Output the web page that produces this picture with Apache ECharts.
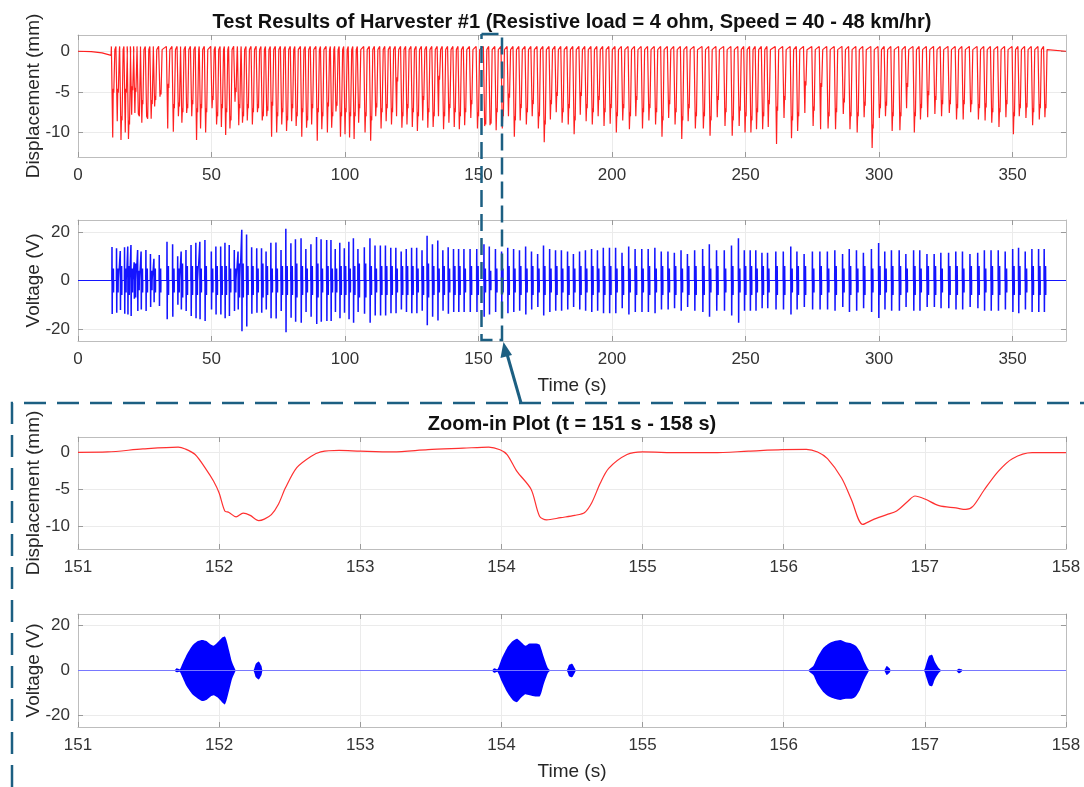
<!DOCTYPE html>
<html>
<head>
<meta charset="utf-8">
<title>Harvester #1 test results</title>
<script src="https://cdn.jsdelivr.net/npm/echarts@6/dist/echarts.min.js"></script>
<style>
  html, body { margin: 0; padding: 0; background: #fff; }
  #chart { width: 1084px; height: 787px; }
</style>
</head>
<body>
<div id="chart"></div>
<script>
// dips of the displacement record (s / mm)
var dipTime = [
  13.0, 14.7, 16.1, 17.7, 18.9, 20.1, 21.3, 22.6, 23.9, 25.7, 27.4, 28.7, 30.7, 33.6, 35.7, 37.6, 38.9, 40.7, 42.6, 44.4,
  45.9, 47.8, 50.2, 51.9, 53.7, 55.3, 56.9, 58.8, 60.2, 61.6, 63.4, 65.3, 67.2, 69.0, 70.7, 72.5, 74.4, 76.3, 78.1, 80.0,
  81.7, 83.8, 85.6, 87.5, 89.6, 91.3, 93.4, 95.0, 96.6, 98.3, 100.0, 101.7, 103.4, 105.1,
  107.5, 109.6, 111.5, 113.5, 115.4, 117.4, 119.3, 121.3, 123.2, 125.2, 127.1, 129.1, 131.0, 133.0, 135.0, 136.9, 138.9, 140.9, 142.8, 144.8,
  147.1, 149.6, 152.3, 154.3, 156.6, 158.9, 161.2, 163.4, 165.6, 167.9, 170.1, 172.4, 174.6, 176.9, 179.1, 181.3, 183.6, 185.8, 188.1, 190.3,
  192.6, 194.8, 197.0, 199.3, 201.6, 204.0, 206.5, 208.9, 211.4, 213.8, 216.3, 218.7, 221.2, 223.6, 226.1, 228.5, 231.2,
  234.2, 236.7, 239.4, 242.3, 245.0, 247.6, 249.8, 252.0, 254.1, 256.4, 258.5, 261.6, 264.4, 267.2, 269.5, 272.2, 275.3, 278.1, 280.9, 283.7,
  286.6, 289.1, 291.8, 294.4, 297.4, 300.1, 302.4, 304.9, 307.8, 310.3, 313.2, 315.5, 318.2, 320.9, 323.4, 326.3, 329.0, 331.5, 334.3, 337.2,
  339.7, 342.2, 344.9, 347.5, 350.3, 352.5, 355.0, 357.5, 360.0, 362.1
];
var dipDepth = [
  -10.6, -8.6, -10.9, -10.0, -10.8, -7.8, -7.6, -7.7, -8.8, -8.0, -8.3, -6.8, -5.6, -9.5, -9.9, -8.0, -8.8, -7.6, -8.0, -10.9,
  -9.5, -10.0, -7.0, -9.0, -9.3, -10.3, -9.5, -6.2, -9.1, -8.8, -8.5, -9.0, -7.5, -8.5, -8.0, -10.5, -10.0, -9.0, -9.8, -8.6,
  -9.2, -10.5, -9.4, -9.0, -11.0, -9.6, -10.0, -9.4, -7.4, -10.5, -10.2, -10.6, -10.8, -8.8,
  -10.0, -11.0, -8.0, -9.5, -8.6, -9.0, -8.0, -9.4, -9.0, -9.3, -9.8, -8.5, -9.4, -9.3, -8.0, -9.6, -8.8, -9.3, -9.6, -9.1,
  -8.2, -9.5, -9.2, -9.1, -9.7, -9.5, -8.0, -10.5, -8.5, -9.0, -8.0, -9.5, -11.2, -8.4, -7.5, -8.8, -9.0, -10.2, -7.8, -8.6,
  -9.0, -8.0, -9.2, -8.9, -10.0, -8.5, -9.6, -8.0, -9.5, -8.5, -9.0, -10.5, -8.2, -9.0, -10.8, -8.6, -9.5,
  -9.5, -10.4, -8.1, -9.2, -10.4, -9.2, -10.0, -10.0, -9.6, -9.6, -9.3, -11.4, -8.2, -10.7, -9.8, -7.6, -9.2, -9.6, -9.5, -9.6,
  -7.7, -9.6, -10.0, -8.1, -11.9, -8.2, -8.0, -9.8, -9.7, -7.0, -10.0, -8.4, -8.1, -7.7, -8.0, -7.6, -8.4, -8.4, -7.5, -8.4,
  -8.5, -8.8, -9.3, -8.1, -10.2, -8.0, -8.2, -9.1, -8.4, -8.1
];
var dipShoulder = [
  -4.6, -4.6, -8.0, -4.6, -8.5, -4.3, -4.5, -7.5, -6.0, -7.8, -6.0, -5.5, -4.8, -4.0, -6.5, -6.3, -7.0, -6.5, -6.0, -7.0,
  -6.5, -7.0, -5.5, -7.5, -6.5, -7.0, -8.0, -4.5, -6.5, -7.5, -6.5, -7.0, -6.5, -7.5, -6.8, -6.2, -7.5, -7.0, -8.0, -6.5,
  -7.5, -7.0, -8.0, -6.5, -7.0, -7.5, -6.3, -7.5, -6.2, -7.5, -7.0, -7.5, -7.5, -6.5,
  -7.5, -8.0, -6.4, -7.0, -6.5, -7.0, -3.2, -7.5, -6.5, -7.0, -7.5, -5.5, -7.0, -7.5, -3.0, -7.5, -6.5, -7.0, -7.5, -7.0,
  -6.0, -7.5, -8.5, -8.4, -7.0, -7.5, -5.2, -8.0, -6.5, -7.0, -6.0, -7.5, -8.5, -6.0, -5.0, -7.0, -6.5, -8.0, -5.0, -6.5,
  -7.0, -5.5, -7.0, -6.5, -7.5, -6.5, -7.5, -5.5, -7.0, -6.5, -7.0, -8.0, -6.0, -7.0, -8.0, -6.5, -7.5,
  -7.5, -8.0, -5.5, -7.0, -8.0, -6.8, -7.5, -8.0, -7.0, -7.5, -6.0, -6.8, -5.5, -8.0, -7.5, -3.7, -6.8, -3.9, -7.5, -7.0,
  -5.8, -7.5, -7.5, -6.2, -9.0, -6.5, -6.2, -7.5, -7.5, -3.9, -7.5, -6.5, -4.9, -5.5, -6.0, -6.0, -6.5, -6.0, -6.0, -6.5,
  -6.4, -7.0, -7.0, -6.0, -7.5, -6.5, -6.4, -7.0, -6.5, -6.5
];
// voltage burst that goes with each dip (V), main burst and the small one after it
var burstAmp = [
  13.8, 13.3, 12.2, 13.7, 14.0, 14.7, 7.5, 12.6, 12.0, 12.6, 11.0, 9.0, 10.5, 16.0, 15.0, 10.0, 12.0, 12.6, 14.7, 15.6,
  16.0, 16.7, 12.0, 14.0, 14.0, 15.6, 14.7, 12.6, 12.0, 21.0, 19.0, 13.7, 13.3, 13.3, 12.0, 15.6, 15.7, 12.6, 21.4, 15.4,
  17.0, 17.5, 13.0, 15.0, 18.0, 17.0, 16.7, 16.7, 13.0, 15.6, 13.3, 16.0, 17.5, 13.0,
  13.7, 17.5, 14.5, 14.5, 14.5, 13.5, 13.5, 12.0, 13.0, 13.5, 13.5, 12.5, 18.5, 15.0, 16.5, 12.5, 13.7, 13.0, 13.0, 13.0,
  13.0, 13.0, 15.0, 14.0, 13.0, 12.0, 13.5, 13.0, 12.5, 14.0, 12.0, 11.0, 14.5, 13.0, 12.5, 12.5, 12.0, 11.0, 12.0, 12.5,
  13.0, 12.5, 13.5, 13.5, 13.5, 11.5, 14.0, 13.0, 13.0, 13.0, 13.5, 12.0, 12.0, 11.5, 12.5, 11.0, 12.5,
  13.0, 15.0, 12.5, 12.5, 14.5, 17.5, 12.5, 12.5, 12.5, 11.5, 11.5, 12.0, 12.0, 14.0, 12.0, 11.0, 12.0, 12.0, 12.0, 12.5,
  11.0, 13.0, 12.5, 11.5, 13.0, 15.5, 12.0, 12.5, 12.5, 11.0, 12.5, 12.5, 11.0, 11.0, 11.5, 11.5, 12.0, 12.0, 11.0, 11.5,
  12.5, 12.5, 12.5, 12.0, 13.0, 13.5, 12.0, 13.0, 13.0, 13.0
];
var sideAmp = [
  5, 5, 6, 5, 6, 5, 7, 4, 5, 5, 4, 5, 5, 6, 5, 5, 7, 6, 6, 6,
  5, 6, 5, 6, 6, 6, 5, 5, 7, 7, 6, 6, 5, 7, 6, 5, 5, 6, 6, 6,
  7, 6, 5, 6, 7, 5, 6, 5, 5, 6, 6, 5, 6, 7,
  7, 6, 5, 6, 6, 6, 5, 6, 6, 6, 5, 6, 7, 6, 5, 6, 5, 6, 6, 5,
  6, 6, 5, 4, 5, 5, 6, 5, 6, 5, 6, 5, 6, 5, 6, 5, 6, 5, 6, 5,
  6, 5, 6, 6, 5, 6, 5, 6, 5, 6, 5, 6, 5, 6, 5, 6, 6,
  6, 5, 6, 5, 6, 5, 6, 6, 5, 6, 5, 6, 6, 5, 6, 6, 5, 6, 5, 6,
  5, 6, 5, 6, 5, 6, 5, 6, 6, 5, 6, 5, 6, 6, 5, 6, 6, 5, 6, 6,
  5, 6, 6, 5, 6, 6, 5, 6, 6, 6
];
// slow drift before the first dip
var leadTime = [0, 5, 9, 12.4];
var leadDisp = [0, -0.05, -0.2, -0.5];

// zoom-in window 151 - 158 s
var zoomTime = [
  151.0, 151.21, 151.46, 151.71, 151.76, 151.83, 151.91, 151.96, 152.0, 152.04, 152.07, 152.12, 152.17, 152.22, 152.28,
  152.32, 152.37, 152.42, 152.47, 152.55, 152.65, 152.72, 152.85, 153.0, 153.23, 153.48, 153.73, 153.91, 153.99, 154.04,
  154.11, 154.21, 154.27, 154.32, 154.42, 154.52, 154.59, 154.64, 154.70, 154.76, 154.89, 155.0, 155.26, 155.5, 155.75,
  155.99, 156.16, 156.24, 156.31, 156.41, 156.48, 156.56, 156.63, 156.73, 156.80, 156.88, 156.93, 157.0, 157.10, 157.22,
  157.29, 157.34, 157.42, 157.52, 157.62, 157.76, 158.0
];
var zoomDisp = [
  -0.05, 0, 0.4, 0.65, 0.4, -0.35, -2.4, -3.9, -5.5, -7.9, -8.1, -8.7, -8.2, -8.5, -9.2,
  -9.0, -8.4, -7.0, -4.8, -2.1, -0.6, 0, 0.2, 0.1, 0, 0.3, 0.5, 0.65, 0.3, -0.35,
  -2.6, -5.0, -8.6, -9.1, -8.8, -8.5, -8.1, -6.8, -4.2, -2.2, -0.35, 0, -0.1, -0.1, 0.1,
  0.3, 0.35, 0, -0.9, -3.5, -6.4, -9.7, -9.1, -8.4, -7.9, -6.6, -5.9, -6.3, -7.2, -7.5,
  -7.7, -7.3, -5.1, -2.6, -0.9, -0.1, -0.1
];
// voltage envelope in the zoom window (upper / lower edge of each burst)
var envTime = [
  151.0, 151.68, 151.70, 151.72, 151.74, 151.77, 151.81, 151.85, 151.88, 151.91, 151.94, 151.96, 151.99, 152.02, 152.04, 152.07, 152.09, 152.11, 152.12,
  152.24, 152.26, 152.28, 152.30, 152.31,
  153.93, 153.95, 153.97, 154.0, 154.04, 154.08, 154.11, 154.14, 154.17, 154.20, 154.24, 154.27, 154.30, 154.33, 154.35,
  154.46, 154.48, 154.50, 154.52, 154.53,
  156.17, 156.19, 156.21, 156.24, 156.28, 156.32, 156.36, 156.40, 156.44, 156.48, 156.51, 156.54, 156.57, 156.60, 156.61,
  156.71, 156.73, 156.75, 156.76,
  156.99, 157.01, 157.03, 157.05, 157.07, 157.10, 157.12,
  157.22, 157.24, 157.26, 157.27, 158.0
];
var envUp = [
  0, 0, 1.0, 0.5, 3, 7, 11, 13, 13.5, 13, 11.5, 11, 12.5, 14.5, 15, 9, 4, 1, 0,
  0, 3, 4, 2, 0,
  0, 1, 0.5, 5, 10, 13, 14, 12.5, 11, 12, 12, 11.5, 6, 1, 0,
  0, 2.5, 3, 1, 0,
  0, 1, 2, 6, 10, 12, 13, 13.5, 12.5, 12, 11, 8.5, 4, 0.5, 0,
  0, 2, 1, 0,
  0, 3, 6.5, 7, 4, 1, 0,
  0, 0.8, 0.5, 0, 0
];
var envLo = [
  0, 0, -0.8, -0.5, -3, -7, -10.5, -12.5, -13.5, -13, -11.5, -11, -12, -14, -15, -9, -4, -1, 0,
  0, -3, -4, -2, 0,
  0, -1, -0.5, -4.5, -9.5, -13, -14, -12, -10.5, -11, -11.5, -11.5, -6, -1, 0,
  0, -2.5, -3, -1, 0,
  0, -1, -2, -6, -9.5, -11.5, -12.5, -13, -12.5, -12.5, -11.5, -8.5, -4, -0.5, 0,
  0, -2, -1, 0,
  0, -3, -6.5, -7, -4, -1, 0,
  0, -1.2, -0.5, 0, 0
];

var dispTicks = [-10, -5, 0];
var voltTicks = [-20, 0, 20];
var fullTicks = [0, 50, 100, 150, 200, 250, 300, 350];
var zoomTicks = [151, 152, 153, 154, 155, 156, 157, 158];

var FONT = '"Liberation Sans", Arial, Helvetica, sans-serif';
var BOXC = '#bdbdbd';
var GRIDC = '#ebebeb';
var TICKC = '#9a9a9a';
var TEAL = '#1c5f82';

// build the line data from the arrays above
var dispLine = [];
for (var i = 0; i < leadTime.length; i++) dispLine.push([leadTime[i], leadDisp[i]]);
for (var i = 0; i < dipTime.length; i++) {
  var t = dipTime[i];
  dispLine.push([t - 0.5, 0.6]);
  dispLine.push([t, dipDepth[i]]);
  dispLine.push([t + 0.2, dipShoulder[i]]);
  dispLine.push([t + 0.4, dipShoulder[i] - 0.5]);
  dispLine.push([t + 0.8, 0.2]);
}
dispLine.push([363.5, 0], [370, 0]);

// each burst drawn as a few full swings so it reads as a solid bar
var voltLine = [[0, 0]];
for (var i = 0; i < dipTime.length; i++) {
  var b = dipTime[i] - 0.35;
  var a = burstAmp[i];
  var s = dipTime[i] + 0.2;
  voltLine.push([b - 0.05, 0], [b, a], [b + 0.08, -a], [b + 0.16, a], [b + 0.24, -a], [b + 0.3, 0]);
  voltLine.push([s - 0.05, 0], [s, sideAmp[i]], [s + 0.06, -sideAmp[i]], [s + 0.12, sideAmp[i]], [s + 0.18, -sideAmp[i]], [s + 0.22, 0]);
}
voltLine.push([370, 0]);

var zoomLine = zoomTime.map(function (t, k) { return [t, zoomDisp[k]]; });
var upLine = envTime.map(function (t, k) { return [t, envUp[k]]; });
var loLine = envTime.map(function (t, k) { return [t, envLo[k]]; });

var grids = [
  { left: 78, width: 988, top: 35, height: 122 },
  { left: 78, width: 988, top: 220, height: 121 },
  { left: 78, width: 988, top: 437, height: 112 },
  { left: 78, width: 988, top: 614, height: 113 }
];

function xAxisOf(g, min, max, ticks, top, name) {
  return {
    type: 'value', gridIndex: g, min: min, max: max,
    position: top ? 'top' : 'bottom',
    name: name || '', nameLocation: 'middle', nameGap: 35, nameMoveOverlap: false,
    nameTextStyle: { fontSize: 19, color: '#262626', fontFamily: FONT },
    axisLine: { show: true, onZero: false, lineStyle: { color: BOXC } },
    axisTick: { show: true, inside: true, length: 5, customValues: ticks, lineStyle: { color: TICKC } },
    axisLabel: { show: !top, customValues: ticks, fontSize: 17, color: '#333', fontFamily: FONT, margin: 10 },
    splitLine: { show: !top, lineStyle: { color: GRIDC } }
  };
}

function yAxisOf(g, min, max, ticks, right, name) {
  return {
    type: 'value', gridIndex: g, min: min, max: max,
    position: right ? 'right' : 'left',
    name: name || '', nameLocation: 'middle', nameGap: 35, nameMoveOverlap: false,
    nameTextStyle: { fontSize: 19, color: '#262626', fontFamily: FONT },
    axisLine: { show: true, onZero: false, lineStyle: { color: BOXC } },
    axisTick: { show: true, inside: true, length: 5, customValues: ticks, lineStyle: { color: TICKC } },
    axisLabel: { show: !right, customValues: ticks, fontSize: 17, color: '#333', fontFamily: FONT, margin: 8 },
    splitLine: { show: !right, lineStyle: { color: GRIDC } }
  };
}

var chart = echarts.init(document.getElementById('chart'));
chart.setOption({
  animation: false,
  backgroundColor: '#fff',
  grid: grids,
  xAxis: [
    xAxisOf(0, 0, 370, fullTicks, false),
    xAxisOf(1, 0, 370, fullTicks, false, 'Time (s)'),
    xAxisOf(2, 151, 158, zoomTicks, false),
    xAxisOf(3, 151, 158, zoomTicks, false, 'Time (s)'),
    xAxisOf(0, 0, 370, fullTicks, true),
    xAxisOf(1, 0, 370, fullTicks, true),
    xAxisOf(2, 151, 158, zoomTicks, true),
    xAxisOf(3, 151, 158, zoomTicks, true)
  ],
  yAxis: [
    yAxisOf(0, -13, 2, dispTicks, false, 'Displacement (mm)'),
    yAxisOf(1, -25, 25, voltTicks, false, 'Voltage (V)'),
    yAxisOf(2, -13, 2, dispTicks, false, 'Displacement (mm)'),
    yAxisOf(3, -25, 25, voltTicks, false, 'Voltage (V)'),
    yAxisOf(0, -13, 2, dispTicks, true),
    yAxisOf(1, -25, 25, voltTicks, true),
    yAxisOf(2, -13, 2, dispTicks, true),
    yAxisOf(3, -25, 25, voltTicks, true)
  ],
  series: [
    {
      type: 'line', xAxisIndex: 0, yAxisIndex: 0, data: dispLine,
      showSymbol: false, symbol: 'none', lineStyle: { color: '#ff2020', width: 1.2 }
    },
    {
      type: 'line', xAxisIndex: 1, yAxisIndex: 1, data: voltLine,
      showSymbol: false, symbol: 'none', lineStyle: { color: '#1414ff', width: 1.1 }
    },
    {
      type: 'line', xAxisIndex: 2, yAxisIndex: 2, data: zoomLine, smooth: 0.3,
      showSymbol: false, symbol: 'none', lineStyle: { color: '#ff3030', width: 1.2 }
    },
    {
      type: 'line', xAxisIndex: 3, yAxisIndex: 3, data: [[151, 0], [158, 0]],
      showSymbol: false, symbol: 'none', lineStyle: { color: '#7878ff', width: 1.2 }
    },
    {
      type: 'line', xAxisIndex: 3, yAxisIndex: 3, data: upLine, smooth: 0.2,
      showSymbol: false, symbol: 'none', lineStyle: { opacity: 0 },
      areaStyle: { color: '#0000ff', opacity: 1 }
    },
    {
      type: 'line', xAxisIndex: 3, yAxisIndex: 3, data: loLine, smooth: 0.2,
      showSymbol: false, symbol: 'none', lineStyle: { opacity: 0 },
      areaStyle: { color: '#0000ff', opacity: 1 }
    }
  ],
  graphic: [
    {
      type: 'text', x: 572, y: 22, z: 50,
      style: {
        text: 'Test Results of Harvester #1 (Resistive load = 4 ohm, Speed = 40 - 48 km/hr)',
        fontSize: 20, fontWeight: 'bold', fontFamily: FONT, fill: '#111',
        align: 'center', verticalAlign: 'middle'
      }
    },
    {
      type: 'text', x: 572, y: 424, z: 50,
      style: {
        text: 'Zoom-in Plot (t = 151 s - 158 s)',
        fontSize: 20, fontWeight: 'bold', fontFamily: FONT, fill: '#111',
        align: 'center', verticalAlign: 'middle'
      }
    },
    {
      type: 'polyline', z: 60,
      shape: { points: [[481.5, 34], [502, 34], [502, 340], [481.5, 340], [481.5, 34]] },
      style: { stroke: TEAL, lineWidth: 2.5, lineDash: [17, 7], fill: null }
    },
    {
      type: 'line', z: 60,
      shape: { x1: 521, y1: 403, x2: 507, y2: 354 },
      style: { stroke: TEAL, lineWidth: 3 }
    },
    {
      type: 'polygon', z: 60,
      shape: { points: [[503.5, 342], [512, 355], [500.5, 358]] },
      style: { fill: TEAL }
    },
    {
      type: 'polyline', z: 60,
      shape: { points: [[12, 787], [12, 403], [1084, 403]] },
      style: { stroke: TEAL, lineWidth: 2.5, lineDash: [22, 11], fill: null }
    }
  ]
});
window.addEventListener('resize', chart.resize);
</script>
</body>
</html>
